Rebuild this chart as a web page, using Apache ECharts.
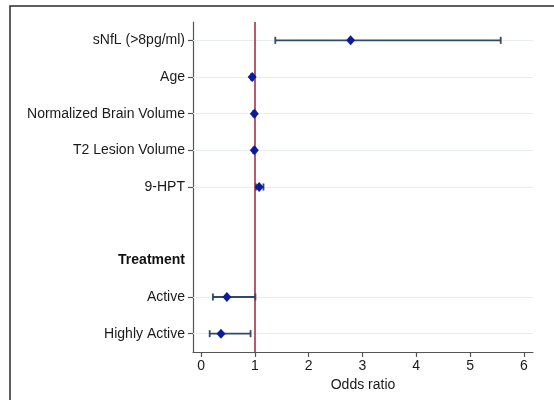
<!DOCTYPE html>
<html>
<head>
<meta charset="utf-8">
<script src="https://cdn.jsdelivr.net/npm/echarts@6/dist/echarts.min.js"></script>
<style>html,body{margin:0;padding:0;background:#fff;}#c{width:554px;height:400px;}</style>
</head>
<body>
<div id="c"></div>
<script>
const categories = ['sNfL (>8pg/ml)', 'Age', 'Normalized Brain Volume', 'T2 Lesion Volume', '9-HPT', '', 'Treatment', 'Active', 'Highly Active'];
const oddsRatio = [2.78, 0.95, 0.99, 0.99, 1.08, null, null, 0.48, 0.37];
const ciLower  = [1.38, 0.93, 0.97, 0.97, 1.02, null, null, 0.22, 0.16];
const ciUpper  = [5.57, 0.97, 1.01, 1.01, 1.16, null, null, 1.01, 0.92];
const headerRows = ['Treatment'];
const xTicks = [0, 1, 2, 3, 4, 5, 6];
const refValue = 1;

const hasRow = categories.map((c, i) => oddsRatio[i] !== null);

const chart = echarts.init(document.getElementById('c'));
const fontFamily = '"Liberation Sans", Arial, sans-serif';

const pointData = [];
const barData = [];
categories.forEach((c, i) => {
  if (oddsRatio[i] !== null) {
    pointData.push([oddsRatio[i], i]);
    barData.push([ciLower[i], ciUpper[i], i]);
  }
});

chart.setOption({
  animation: false,
  backgroundColor: '#fff',
  textStyle: { fontFamily: fontFamily },
  graphic: [{
    type: 'rect', silent: true, z: -10,
    shape: { x: 10, y: 6, width: 700, height: 500 },
    style: { fill: 'none', stroke: '#2a2a2a', lineWidth: 1.5 }
  }],
  grid: { left: 193, right: 21, top: 22, bottom: 48, containLabel: false },
  xAxis: {
    type: 'value', min: -0.15, max: 6.17,
    name: 'Odds ratio', nameLocation: 'middle', nameGap: 22,
    nameTextStyle: { fontSize: 14, color: '#1a1a1a', fontFamily: fontFamily },
    axisLine: { show: true, onZero: false, lineStyle: { color: '#555', width: 1.2 } },
    axisTick: { show: true, length: 5, customValues: xTicks, lineStyle: { color: '#555', width: 1.2 } },
    axisLabel: { customValues: xTicks, fontSize: 14, color: '#1a1a1a', margin: 7, fontFamily: fontFamily },
    splitLine: { show: false }
  },
  yAxis: {
    type: 'category', data: categories, inverse: true,
    axisLine: { show: true, onZero: false, lineStyle: { color: '#555', width: 1.2 } },
    axisTick: { show: true, alignWithLabel: true, length: 5, lineStyle: { color: '#555', width: 1.2 },
      interval: function (idx) { return hasRow[idx]; } },
    axisLabel: {
      interval: 0, fontSize: 14, color: '#1a1a1a', margin: 8, fontFamily: fontFamily,
      formatter: function (v) { return headerRows.indexOf(v) >= 0 ? '{b|' + v + '}' : v; },
      rich: { b: { fontWeight: 'bold', fontSize: 14, color: '#111', fontFamily: fontFamily } }
    },
    splitLine: { show: false }
  },
  series: [
    {
      type: 'line', data: [], silent: true, z: 1,
      markLine: {
        silent: true, symbol: 'none', label: { show: false }, animation: false,
        lineStyle: { color: '#e8eef0', width: 1.2, type: 'solid' },
        data: categories.filter((c, i) => hasRow[i]).map(c => ({ yAxis: c }))
      }
    },
    {
      type: 'line', data: [], silent: true, z: 2,
      markLine: {
        silent: true, symbol: 'none', label: { show: false }, animation: false,
        lineStyle: { color: '#a3304c', width: 1.6, type: 'solid' },
        data: [{ xAxis: refValue }]
      }
    },
    {
      type: 'custom', z: 8,
      data: barData,
      encode: { x: [0, 1], y: 2 },
      renderItem: function (params, api) {
        const y = api.value(2);
        const lo = api.coord([api.value(0), y]);
        const hi = api.coord([api.value(1), y]);
        const h = 3.5;
        const st = { stroke: '#2f4a6a', lineWidth: 1.8 };
        return {
          type: 'group',
          children: [
            { type: 'line', shape: { x1: lo[0], y1: lo[1], x2: hi[0], y2: hi[1] }, style: st },
            { type: 'line', shape: { x1: lo[0], y1: lo[1] - h, x2: lo[0], y2: lo[1] + h }, style: st },
            { type: 'line', shape: { x1: hi[0], y1: hi[1] - h, x2: hi[0], y2: hi[1] + h }, style: st }
          ]
        };
      }
    },
    {
      type: 'scatter', z: 10,
      data: pointData,
      symbol: 'diamond', symbolSize: [9, 10],
      itemStyle: { color: '#0a1c9c', opacity: 1 }
    }
  ]
});
</script>
</body>
</html>
